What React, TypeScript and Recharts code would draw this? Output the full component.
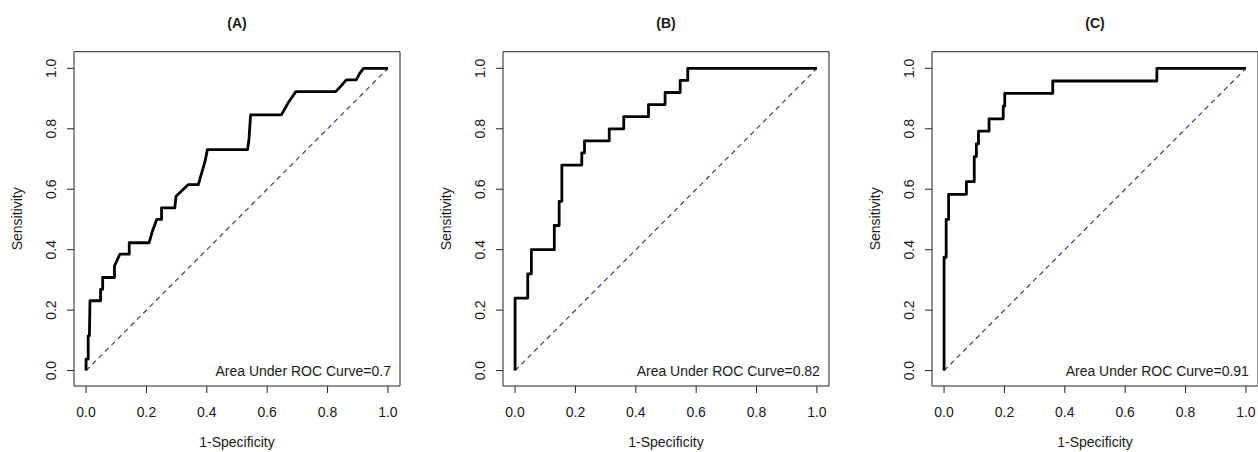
import React from 'react';
import { LineChart, Line, XAxis, YAxis, ReferenceArea, ReferenceDot } from 'recharts';

// ---- data ----
const xTicks = [0, 0.2, 0.4, 0.6, 0.8, 1.0];
const yTicks = [0, 0.2, 0.4, 0.6, 0.8, 1.0];
const diagonal = [[0, 0], [1, 1]];

const rocA = [
  [0, 0], [0, 0.038], [0.007, 0.038], [0.007, 0.115], [0.011, 0.115], [0.013, 0.231],
  [0.048, 0.231], [0.048, 0.269], [0.055, 0.269], [0.055, 0.308], [0.094, 0.308], [0.094, 0.346],
  [0.112, 0.385], [0.143, 0.385], [0.143, 0.423], [0.209, 0.423], [0.22, 0.462], [0.234, 0.5],
  [0.25, 0.5], [0.25, 0.538], [0.294, 0.538], [0.298, 0.577], [0.338, 0.615], [0.372, 0.615],
  [0.383, 0.654], [0.394, 0.692], [0.402, 0.731], [0.535, 0.731], [0.54, 0.769], [0.545, 0.846],
  [0.647, 0.846], [0.669, 0.885], [0.695, 0.923], [0.827, 0.923], [0.845, 0.942], [0.862, 0.962],
  [0.895, 0.962], [0.905, 0.981], [0.919, 1], [1, 1],
];

const rocB = [
  [0, 0], [0, 0.24], [0.042, 0.24], [0.042, 0.32], [0.054, 0.32], [0.054, 0.4], [0.13, 0.4],
  [0.13, 0.48], [0.146, 0.48], [0.146, 0.56], [0.155, 0.56], [0.155, 0.68], [0.221, 0.68],
  [0.221, 0.72], [0.23, 0.72], [0.23, 0.76], [0.312, 0.76], [0.312, 0.8], [0.36, 0.8],
  [0.36, 0.84], [0.442, 0.84], [0.442, 0.88], [0.497, 0.88], [0.497, 0.92], [0.547, 0.92],
  [0.547, 0.96], [0.572, 0.96], [0.572, 1], [1, 1],
];

const rocC = [
  [0, 0], [0, 0.375], [0.007, 0.375], [0.007, 0.5], [0.015, 0.5], [0.015, 0.583], [0.074, 0.583],
  [0.074, 0.625], [0.1, 0.625], [0.1, 0.708], [0.107, 0.708], [0.107, 0.75], [0.114, 0.75],
  [0.114, 0.792], [0.149, 0.792], [0.149, 0.833], [0.196, 0.833], [0.196, 0.875], [0.201, 0.875],
  [0.201, 0.917], [0.36, 0.917], [0.36, 0.958], [0.705, 0.958], [0.705, 1], [1, 1],
];

const titles = ['(A)', '(B)', '(C)'];
const aucLabels = ['Area Under ROC Curve=0.7', 'Area Under ROC Curve=0.82', 'Area Under ROC Curve=0.91'];

// ---- layout / style ----
const FONT = '"Liberation Sans", Arial, Helvetica, sans-serif';
const TXT = '#1a1a1a';
const CHART_W = 420;
const CHART_H = 452;
const BOX_L = 74;
const BOX_W = 326;
const BOX_TOP = 51.7;
const AXIS_H = 66;
const X_DOMAIN: [number, number] = [-0.04, 1.04];
const Y_DOMAIN: [number, number] = [-0.051, 1.055];
const panelLefts = [0, 429, 858];

const toPts = (arr: number[][]) => arr.map(([x, y]) => ({ x, y }));

const XTick = (props: any) => {
  const { x, y, payload } = props;
  return (
    <text x={x} y={y + 10} textAnchor="middle" fontFamily={FONT} fontSize={14} fill={TXT}>
      {Number(payload.value).toFixed(1)}
    </text>
  );
};

const YTick = (props: any) => {
  const { x, y, payload } = props;
  return (
    <text x={x} y={y} transform={`rotate(-90 ${x} ${y})`} textAnchor="middle" fontFamily={FONT} fontSize={14} fill={TXT}>
      {Number(payload.value).toFixed(1)}
    </text>
  );
};

function Panel({ idx, roc }: { idx: number; roc: number[][] }) {
  const cx = BOX_L + BOX_W / 2;
  const cy = BOX_TOP + (CHART_H - AXIS_H - BOX_TOP) / 2;
  return (
    <div style={{ position: 'absolute', left: panelLefts[idx], top: 0 }}>
      <LineChart width={CHART_W} height={CHART_H} margin={{ top: BOX_TOP, right: CHART_W - BOX_L - BOX_W, bottom: 0, left: 0 }}>
        <XAxis
          type="number"
          dataKey="x"
          domain={X_DOMAIN}
          ticks={xTicks}
          interval={0}
          height={AXIS_H}
          axisLine={false}
          tickLine={{ stroke: '#222', strokeWidth: 1 }}
          tickSize={7}
          tickMargin={14}
          tick={<XTick />}
          label={{
            content: () => (
              <text x={cx} y={447} textAnchor="middle" fontFamily={FONT} fontSize={14} fill={TXT}>
                1-Specificity
              </text>
            ),
          }}
        />
        <YAxis
          type="number"
          dataKey="y"
          domain={Y_DOMAIN}
          ticks={yTicks}
          interval={0}
          width={BOX_L}
          axisLine={false}
          tickLine={{ stroke: '#222', strokeWidth: 1 }}
          tickSize={7}
          tickMargin={11}
          tick={<YTick />}
          label={{
            content: () => (
              <text
                x={BOX_L - 51.5}
                y={cy}
                transform={`rotate(-90 ${BOX_L - 51.5} ${cy})`}
                textAnchor="middle"
                fontFamily={FONT}
                fontSize={14}
                fill={TXT}
              >
                Sensitivity
              </text>
            ),
          }}
        />
        <ReferenceArea
          x1={X_DOMAIN[0]}
          x2={X_DOMAIN[1]}
          y1={Y_DOMAIN[0]}
          y2={Y_DOMAIN[1]}
          fill="none"
          fillOpacity={0}
          stroke="#222"
          strokeWidth={1}
          ifOverflow="visible"
          label={{
            content: () => (
              <text x={cx} y={27.5} textAnchor="middle" fontFamily={FONT} fontSize={14} fontWeight="bold" fill={TXT}>
                {titles[idx]}
              </text>
            ),
          }}
        />
        <Line
          data={toPts(diagonal)}
          dataKey="y"
          type="linear"
          stroke="#3c3c8e"
          strokeWidth={1.2}
          strokeDasharray="5 4"
          dot={false}
          activeDot={false}
          isAnimationActive={false}
        />
        <Line
          data={toPts(roc)}
          dataKey="y"
          type="linear"
          stroke="#000"
          strokeWidth={2.8}
          strokeLinejoin="round"
          dot={false}
          activeDot={false}
          isAnimationActive={false}
        />
        <ReferenceDot
          x={1}
          y={0}
          r={0}
          fill="none"
          stroke="none"
          ifOverflow="visible"
          label={{
            content: (p: any) => {
              const vb = p.viewBox || {};
              return (
                <text x={(vb.x ?? 0) + 3} y={(vb.y ?? 0) + 5} textAnchor="end" fontFamily={FONT} fontSize={14} fill={TXT}>
                  {aucLabels[idx]}
                </text>
              );
            },
          }}
        />
      </LineChart>
    </div>
  );
}

export default function App() {
  return (
    <div style={{ position: 'absolute', left: 0, top: 0, width: 1258, height: 452, overflow: 'hidden', background: '#fff' }}>
      <Panel idx={0} roc={rocA} />
      <Panel idx={1} roc={rocB} />
      <Panel idx={2} roc={rocC} />
    </div>
  );
}
